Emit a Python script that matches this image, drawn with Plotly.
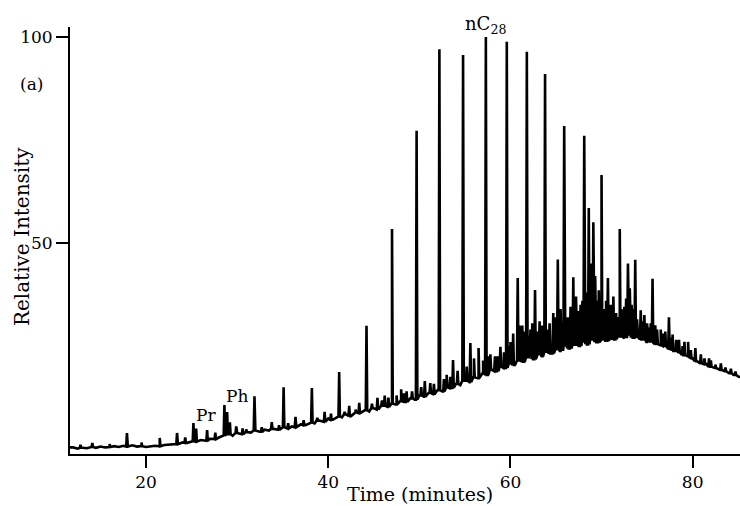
import plotly.graph_objects as go

# Baseline (unresolved hump), every 0.5 min
base_t = [11.5, 12.0, 12.5, 13.0, 13.5, 14.0, 14.5, 15.0, 15.5, 16.0, 16.5, 17.0, 17.5, 18.0, 18.5, 19.0, 19.5,
          20.0, 20.5, 21.0, 21.5, 22.0, 22.5, 23.0, 23.5, 24.0, 24.5, 25.0, 25.5, 26.0, 26.5, 27.0, 27.5,
          28.0, 28.5, 29.0, 29.5, 30.0, 30.5, 31.0, 31.5, 32.0, 32.5, 33.0, 33.5, 34.0, 34.5, 35.0, 35.5,
          36.0, 36.5, 37.0, 37.5, 38.0, 38.5, 39.0, 39.5, 40.0, 40.5, 41.0, 41.5, 42.0, 42.5, 43.0, 43.5,
          44.0, 44.5, 45.0, 45.5, 46.0, 46.5, 47.0, 47.5, 48.0, 48.5, 49.0, 49.5, 50.0, 50.5, 51.0, 51.5,
          52.0, 52.5, 53.0, 53.5, 54.0, 54.5, 55.0, 55.5, 56.0, 56.5, 57.0, 57.5, 58.0, 58.5, 59.0, 59.5,
          60.0, 60.5, 61.0, 61.5, 62.0, 62.5, 63.0, 63.5, 64.0, 64.5, 65.0, 65.5, 66.0, 66.5, 67.0, 67.5,
          68.0, 68.5, 69.0, 69.5, 70.0, 70.5, 71.0, 71.5, 72.0, 72.5, 73.0, 73.5, 74.0, 74.5, 75.0, 75.5,
          76.0, 76.5, 77.0, 77.5, 78.0, 78.5, 79.0, 79.5, 80.0, 80.5, 81.0, 81.5, 82.0, 82.5, 83.0, 83.5,
          84.0, 84.5, 85.0, 85.5]
base_v = [0.4, 0.4, 0.1, 0.3, 0.2, 0.5, 0.3, 0.6, 0.4, 0.5, 0.7, 0.5, 0.8, 0.6, 0.9, 0.6, 0.7,
          0.5, 0.6, 0.8, 0.7, 1.0, 1.1, 1.3, 1.2, 1.6, 1.5, 1.9, 1.8, 2.2, 2.0, 2.5, 2.4,
          2.8, 3.3, 3.6, 3.2, 3.9, 3.6, 4.1, 4.0, 4.5, 4.2, 4.7, 4.5, 4.9, 4.7, 5.3, 5.0,
          5.5, 5.3, 6.0, 5.8, 6.4, 6.2, 6.9, 6.6, 7.4, 7.1, 7.9, 7.7, 8.4, 8.0, 8.9, 8.7,
          9.4, 9.1, 9.9, 9.6, 10.5, 10.2, 11.0, 10.8, 11.7, 11.4, 12.3, 12.0, 13.0, 12.7, 13.6, 13.3,
          14.3, 14.0, 15.0, 14.8, 15.8, 15.5, 16.6, 16.2, 17.4, 17.2, 18.4, 18.0, 19.2, 18.9, 20.0, 19.7,
          20.8, 20.4, 21.5, 21.2, 22.3, 21.8, 23.0, 22.5, 23.6, 23.2, 24.2, 23.8, 24.8, 24.4, 25.3, 25.0,
          25.8, 25.4, 26.3, 25.9, 26.7, 26.3, 27.0, 26.6, 27.3, 26.9, 27.5, 27.0, 27.2, 26.6, 26.0, 25.8,
          25.5, 25.2, 25.0, 24.3, 23.8, 23.5, 22.8, 22.5, 22.0, 21.3, 20.8, 20.6, 20.0, 19.7, 19.2, 18.9,
          18.4, 18.0, 17.6, 17.4]

# Resolved peaks (n-alkanes, Pr, Ph) - retention time and apex height
peak_t = [14.1, 17.9, 21.5, 23.4, 25.2, 25.5, 26.7, 28.6, 28.9, 29.2, 31.9, 35.1, 38.2, 41.2, 44.2,
          47.0, 49.7, 52.2, 54.8, 57.3, 59.6, 61.8, 63.8, 65.9, 68.1, 70.0, 72.0, 73.7, 75.6, 77.4,
          79.5, 81.8]
peak_h = [1.5, 3.9, 2.7, 3.9, 6.3, 5.0, 4.6, 10.7, 9.0, 6.5, 12.8, 15.0, 14.8, 18.7, 29.9,
          53.4, 77.2, 97.0, 95.6, 100.0, 98.8, 96.4, 91.0, 78.4, 76.0, 66.5, 53.4, 45.9, 41.3, 32.0,
          26.0, 22.0]

# Minor peaks riding on the hump
minor_t = [12.8, 16.0, 19.5, 24.3, 27.6, 29.9, 30.6, 31.0, 32.7, 33.8, 34.6, 35.6, 36.4, 37.3, 38.8,
           39.6, 40.3, 41.8, 42.3, 43.0, 43.4, 44.8, 45.4, 45.9, 46.2, 46.6, 47.5, 48.0, 48.3, 48.6,
           49.2, 50.2, 50.6, 51.2, 51.6, 52.7, 53.0, 53.4, 53.7, 54.2, 55.2, 55.6, 56.0, 56.5, 57.0,
           57.5, 57.8, 58.3, 58.6, 58.9, 59.3, 59.9, 60.0, 60.3, 60.8, 61.0, 61.3, 61.5, 62.0, 62.2,
           62.4, 62.7, 63.0, 63.2, 63.5, 64.0, 64.3, 64.7, 65.0, 65.2, 65.5, 65.7, 66.1, 66.3, 66.6,
           66.9, 67.2, 67.4, 67.7, 67.9, 68.3, 68.6, 68.8, 68.9, 69.1, 69.3, 69.5, 69.7, 70.1, 70.3,
           70.5, 70.7, 71.0, 71.3, 71.6, 71.8, 72.2, 72.5, 72.7, 72.9, 73.1, 73.3, 73.5, 73.9, 74.3,
           74.5, 74.7, 75.0, 75.2, 75.4, 75.9, 76.1, 76.5, 76.8, 77.0, 77.6, 77.8, 78.2, 78.5, 78.9,
           79.1, 79.8, 80.3, 80.9, 81.3, 82.0, 82.5, 83.1, 83.6, 84.2, 84.7]
minor_h = [1.0, 1.2, 1.6, 2.8, 4.0, 5.5, 5.0, 4.8, 5.3, 6.5, 5.8, 6.3, 7.8, 7.0, 7.6,
           9.0, 8.6, 9.0, 10.5, 9.6, 11.2, 11.0, 12.4, 11.8, 13.0, 12.5, 13.0, 14.5, 13.5, 14.0,
           14.0, 15.0, 16.5, 16.0, 15.8, 17.0, 18.0, 17.5, 21.6, 19.0, 20.0, 25.7, 22.0, 24.5, 21.5,
           22.5, 23.0, 22.5, 22.5, 24.8, 23.5, 25.0, 26.0, 28.0, 41.5, 30.0, 30.0, 28.5, 27.5, 29.0,
           30.5, 38.6, 28.5, 31.0, 30.0, 29.0, 30.5, 33.0, 32.0, 46.0, 34.0, 30.0, 31.5, 32.0, 34.5,
           41.7, 37.0, 33.5, 35.0, 36.0, 38.0, 58.5, 45.0, 40.0, 55.0, 42.0, 36.0, 38.5, 33.5, 34.0,
           36.0, 41.5, 35.0, 37.0, 33.0, 32.0, 34.0, 34.5, 36.5, 45.0, 39.0, 35.0, 34.0, 31.5, 33.7,
           31.0, 32.5, 30.5, 29.5, 30.5, 30.0, 29.0, 29.0, 28.0, 28.5, 27.0, 27.8, 26.5, 26.5, 25.0,
           26.0, 24.0, 24.5, 23.0, 22.0, 21.5, 20.5, 20.8, 19.8, 19.5, 18.8]

# Build one trace: baseline points plus narrow spikes
pts = list(zip(base_t, base_v))
half_w = 0.08
for t, h in list(zip(peak_t, peak_h)) + list(zip(minor_t, minor_h)):
    i = min(range(len(base_t)), key=lambda k: abs(base_t[k] - t))
    b = base_v[i]
    pts += [(t - half_w, b), (t, h), (t + half_w, b)]
pts.sort(key=lambda p: p[0])
xs = [p[0] for p in pts]
ys = [p[1] for p in pts]

FONT = "DejaVu Serif"

fig = go.Figure()
fig.add_trace(go.Scatter(x=xs, y=ys, mode="lines",
                         line=dict(color="black", width=2.6), hoverinfo="skip"))

fig.update_layout(
    width=740, height=506,
    margin=dict(l=70, r=0, t=27, b=52, autoexpand=False),
    paper_bgcolor="white", plot_bgcolor="white",
    showlegend=False,
    font=dict(family=FONT, color="black", size=17),
    xaxis=dict(range=[11.65, 85.2], tickvals=[20, 40, 60, 80], ticks="outside", ticklen=12,
               tickwidth=2, tickcolor="black", showline=True, linecolor="black", linewidth=2,
               showgrid=False, zeroline=False, tickfont=dict(size=17), automargin=False),
    yaxis=dict(range=[-1.2, 102.4], tickvals=[50, 100], ticks="outside", ticklen=12,
               tickwidth=2, tickcolor="black", showline=True, linecolor="black", linewidth=2,
               showgrid=False, zeroline=False, tickfont=dict(size=17), automargin=False),
)

# Axis titles
fig.add_annotation(x=0.522, y=-0.094, xref="paper", yref="paper", text="Time (minutes)",
                   showarrow=False, font=dict(size=19), xanchor="center", yanchor="middle")
fig.add_annotation(x=-0.0716, y=0.508, xref="paper", yref="paper", text="Relative Intensity",
                   showarrow=False, font=dict(size=20), textangle=-90,
                   xanchor="center", yanchor="middle")

fig.add_annotation(x=57.3, y=(454 - 25) / 427, xref="x", yref="paper", text="nC<sub>28</sub>",
                   showarrow=False, font=dict(size=18), xanchor="center", yanchor="middle")
fig.add_annotation(x=-0.058, y=88.6, xref="paper", yref="y", text="(a)", showarrow=False,
                   font=dict(size=17), xanchor="center", yanchor="middle")
fig.add_annotation(x=26.6, y=8.3, xref="x", yref="y", text="Pr", showarrow=False, font=dict(size=17))
fig.add_annotation(x=30.0, y=12.9, xref="x", yref="y", text="Ph", showarrow=False, font=dict(size=17))

fig.write_html("out.html", config={"displayModeBar": False},
               post_script="document.body.style.margin='0';document.body.style.overflow='hidden';")
